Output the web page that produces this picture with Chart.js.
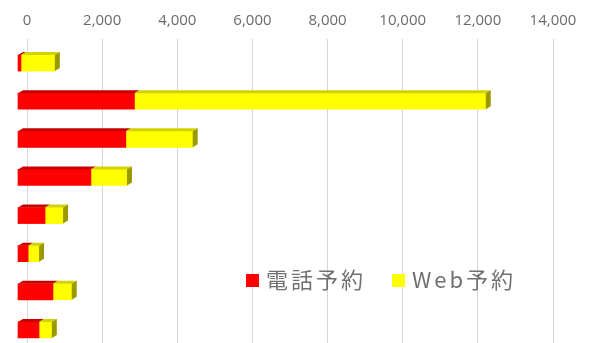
<!DOCTYPE html>
<html lang="ja">
<head>
  <meta charset="UTF-8">
  <title>電話予約 / Web予約</title>
  <script src="https://cdn.jsdelivr.net/npm/chart.js"></script>
  <style>
    html, body { margin: 0; padding: 0; background: #fff; overflow: hidden; }
    #wrap { position: relative; width: 591px; height: 343px; overflow: hidden; }
    #box { position: absolute; left: 0; top: 0; width: 591px; height: 350px; }
    #legend {
      position: absolute; left: 246px; top: 262px;
      font-family: 'Noto Sans CJK JP', 'Noto Sans', sans-serif;
      font-size: 22px; color: #707070; white-space: nowrap;
    }
    #legend span.item { margin-right: 26px; }
    #legend i {
      display: inline-block; width: 13px; height: 13px;
      margin-right: 7px; vertical-align: 1px;
    }
    #legend b { font-weight: normal; letter-spacing: 3px; }
  </style>
</head>
<body>
  <div id="wrap">
    <div id="box"><canvas id="chart"></canvas></div>
    <div id="legend"></div>
  </div>
  <script>
    // categories (labels are not visible in the picture)
    const categories = ['1', '2', '3', '4', '5', '6', '7', '8'];
    const seriesNames = ['電話予約', 'Web予約'];
    const phone = [80, 3100, 2870, 1940, 720, 270, 930, 560];
    const web = [900, 9350, 1780, 960, 480, 290, 500, 340];
    const tickValues = [0, 2000, 4000, 6000, 8000, 10000, 12000, 14000];

    const colors = ['#ff0000', '#ffff00'];
    const topColors = ['#c80000', '#d2d200'];
    const sideColors = ['#a00000', '#9a9a00'];

    // fake 3D: top face + right face on the last segment
    const depth = {
      id: 'depth',
      afterDatasetsDraw(chart) {
        const ctx = chart.ctx;
        const dx = 5, dy = 3;
        const last = chart.data.datasets.length - 1;
        ctx.save();
        chart.data.datasets.forEach((ds, i) => {
          chart.getDatasetMeta(i).data.forEach(bar => {
            const p = bar.getProps(['x', 'y', 'base', 'height'], true);
            const top = p.y - p.height / 2, bot = p.y + p.height / 2;
            ctx.fillStyle = topColors[i];
            ctx.beginPath();
            ctx.moveTo(p.base, top);
            ctx.lineTo(p.base + dx, top - dy);
            ctx.lineTo(p.x + dx, top - dy);
            ctx.lineTo(p.x, top);
            ctx.closePath();
            ctx.fill();
            if (i === last) {
              ctx.fillStyle = sideColors[i];
              ctx.beginPath();
              ctx.moveTo(p.x, top);
              ctx.lineTo(p.x + dx, top - dy);
              ctx.lineTo(p.x + dx, bot - dy);
              ctx.lineTo(p.x, bot);
              ctx.closePath();
              ctx.fill();
            }
          });
        });
        ctx.restore();
      }
    };

    new Chart(document.getElementById('chart'), {
      type: 'bar',
      data: {
        labels: categories,
        datasets: [
          { label: seriesNames[0], data: phone, backgroundColor: colors[0], xAxisID: 'xb' },
          { label: seriesNames[1], data: web, backgroundColor: colors[1], xAxisID: 'xb' }
        ]
      },
      options: {
        indexAxis: 'y',
        responsive: true,
        maintainAspectRatio: false,
        animation: false,
        layout: { padding: { left: 18, right: 38, top: 3, bottom: 1 } },
        plugins: { legend: { display: false }, tooltip: { enabled: false } },
        datasets: { bar: { barThickness: 16, clip: false } },
        scales: {
          x: {
            position: 'top',
            min: -240, max: 14000,
            afterBuildTicks: axis => { axis.ticks = tickValues.map(v => ({ value: v })); },
            grid: { color: '#d6d6d6', lineWidth: 1, drawTicks: true, tickLength: 5 },
            border: { display: false },
            ticks: {
              color: '#6b6b6b', padding: 9,
              font: { family: "'Open Sans', sans-serif", size: 15 },
              callback: v => v.toLocaleString('en-US')
            }
          },
          xb: {
            display: false, stacked: true,
            min: 0, max: 14240
          },
          y: {
            display: false, stacked: true,
            grid: { display: false }
          }
        }
      },
      plugins: [depth]
    });

    document.getElementById('legend').innerHTML = seriesNames
      .map((n, i) => `<span class="item"><i style="background:${colors[i]}"></i><b>${n}</b></span>`)
      .join('');
  </script>
</body>
</html>
